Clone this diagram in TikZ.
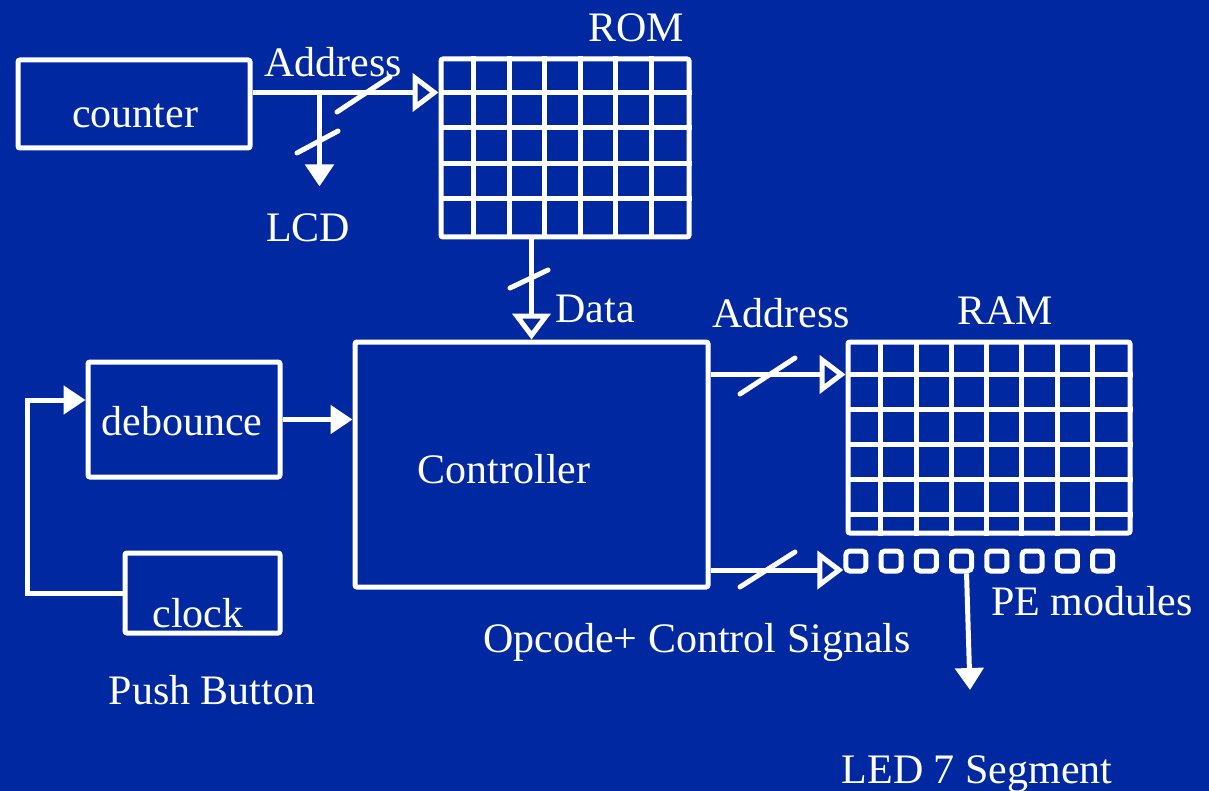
\documentclass[tikz,border=0pt]{standalone}
\usepackage{fontspec}
\setmainfont{Liberation Serif}
\usepackage{tikz}
\usetikzlibrary{arrows.meta,positioning,calc}
\definecolor{slide}{RGB}{0,40,160}
\tikzset{
  box/.style={draw=white,line width=2.5pt,rounded corners=1pt,inner sep=0pt},
  cell/.style={draw=white,line width=2.5pt},                  % grid lines of ROM / RAM
  pe/.style={draw=white,line width=2.5pt,rounded corners=2pt,
             minimum size=10pt,inner sep=0pt},                % one PE module
  lbl/.style={text=white,anchor=base,inner sep=2pt,font=\fontsize{21}{24}\selectfont},
  oar/.style={draw=white,line width=2.5pt,-{Triangle[open,length=13pt,width=19pt]}},
  far/.style={-{Triangle[length=11pt,width=14pt]},draw=white,line width=2.5pt},
  tick/.style={draw=white,line width=2.5pt,line cap=round}    % bus slash
}

\begin{document}
\begin{tikzpicture}[x=0.5pt,y=-0.5pt]
  \fill[slide] (0,0) rectangle (1209,791);
  \useasboundingbox (0,0) rectangle (1209,791);

  % blocks
  \node[box,minimum width=116pt,minimum height=44pt] (counter) at (134,104) {};
  \node[box,minimum width=124pt,minimum height=89pt] (rom) at (565,148) {};
  \node[box,minimum width=176.5pt,minimum height=122.5pt] (ctrl) at (531.5,464.5) {};
  \node[box,minimum width=141pt,minimum height=95.5pt] (ram) at (989,437.5) {};
  \node[box,minimum width=96pt,minimum height=57.5pt] (debounce) at (184,419.5) {};
  \node[box,minimum width=77.5pt,minimum height=40pt] (clock) at (202.5,593) {};

  \foreach \i in {1,...,6}
    \draw[cell] ($(rom.north west)+(\i*35.43,0)$) -- ($(rom.south west)+(\i*35.43,0)$);
  \foreach \j in {1,...,4}
    \draw[cell] ($(rom.north west)+(0,\j*35.6)$) -- ($(rom.north east)+(0,\j*35.6)$);
  \foreach \i in {1,...,7}
    \draw[cell] ($(ram.north west)+(\i*35.25,0)$) -- ($(ram.south west)+(\i*35.25,0)$);
  \foreach \j in {1,...,5}
    \draw[cell] ($(ram.north west)+(0,\j*35)$) -- ($(ram.north east)+(0,\j*35)$);
  \foreach \k in {1,...,8}
    \node[pe] (pe\k) at ({855.8+(\k-1)*35.25},561) {};

  % texts
  \node[lbl] (counterlbl) at (135,128) {counter};
  \node[lbl] (romlbl) at (636,42) {ROM};
  \node[lbl] (addrtop) at (333,77) {Address};
  \node[lbl] (lcd) at (308,242) {LCD};
  \node[lbl] (datalbl) at (595,322) {Data};
  \node[lbl] (addrram) at (781,327) {Address};
  \node[lbl] (ramlbl) at (1005,324) {RAM};
  \node[lbl] (ctrllbl) at (504,483) {Controller};
  \node[lbl] (deblbl) at (182,435) {debounce};
  \node[lbl] (clocklbl) at (198,627) {clock};
  \node[lbl] (pelbl) at (1092,615) {PE modules};
  \node[lbl] (opclbl) at (697,652) {Opcode+ Control Signals};
  \node[lbl] (pushlbl) at (212,704) {Push Button};
  \node[lbl] (ledlbl) at (977,783) {LED 7 Segment};

  % connectors
  \coordinate (romrow) at ($(rom.north west)+(0,36)$);
  \coordinate (ramrow) at ($(ram.north west)+(0,35)$);
  \coordinate (tap) at ($(counter.east |- romrow)+(67,0)$);
  \coordinate (lcdtip) at ($(tap)+(0,94)$);
  \coordinate (ledtip) at (970,690);
  \draw[oar] (counter.east |- romrow) -- (romrow);
  \draw[far] (tap) -- (lcdtip);
  \draw[oar] (ctrl.north |- rom.south) -- (ctrl.north);
  \draw[oar] (ctrl.east |- ramrow) -- (ramrow);
  \draw[oar] ($(ctrl.east |- pe1.west)+(0,9)$) -- ($(pe1.west)+(0,9)$);
  \draw[far] ($(pe4.south)+(5,0)$) -- (ledtip);
  \draw[far] (debounce.east) -- (ctrl.west |- debounce.east);
  \draw[far] (clock.west) -- ++(-95,0) |- ($(debounce.west)+(0,-19.5)$);

  % bus slashes
  \draw[tick] (337,112) -- (390,77);
  \draw[tick] (297,153) -- (338,131);
  \draw[tick] (510,288) -- (548,270);
  \draw[tick] (740,394) -- (795,358);
  \draw[tick] (740,587) -- (795,552);
\end{tikzpicture}
\end{document}
